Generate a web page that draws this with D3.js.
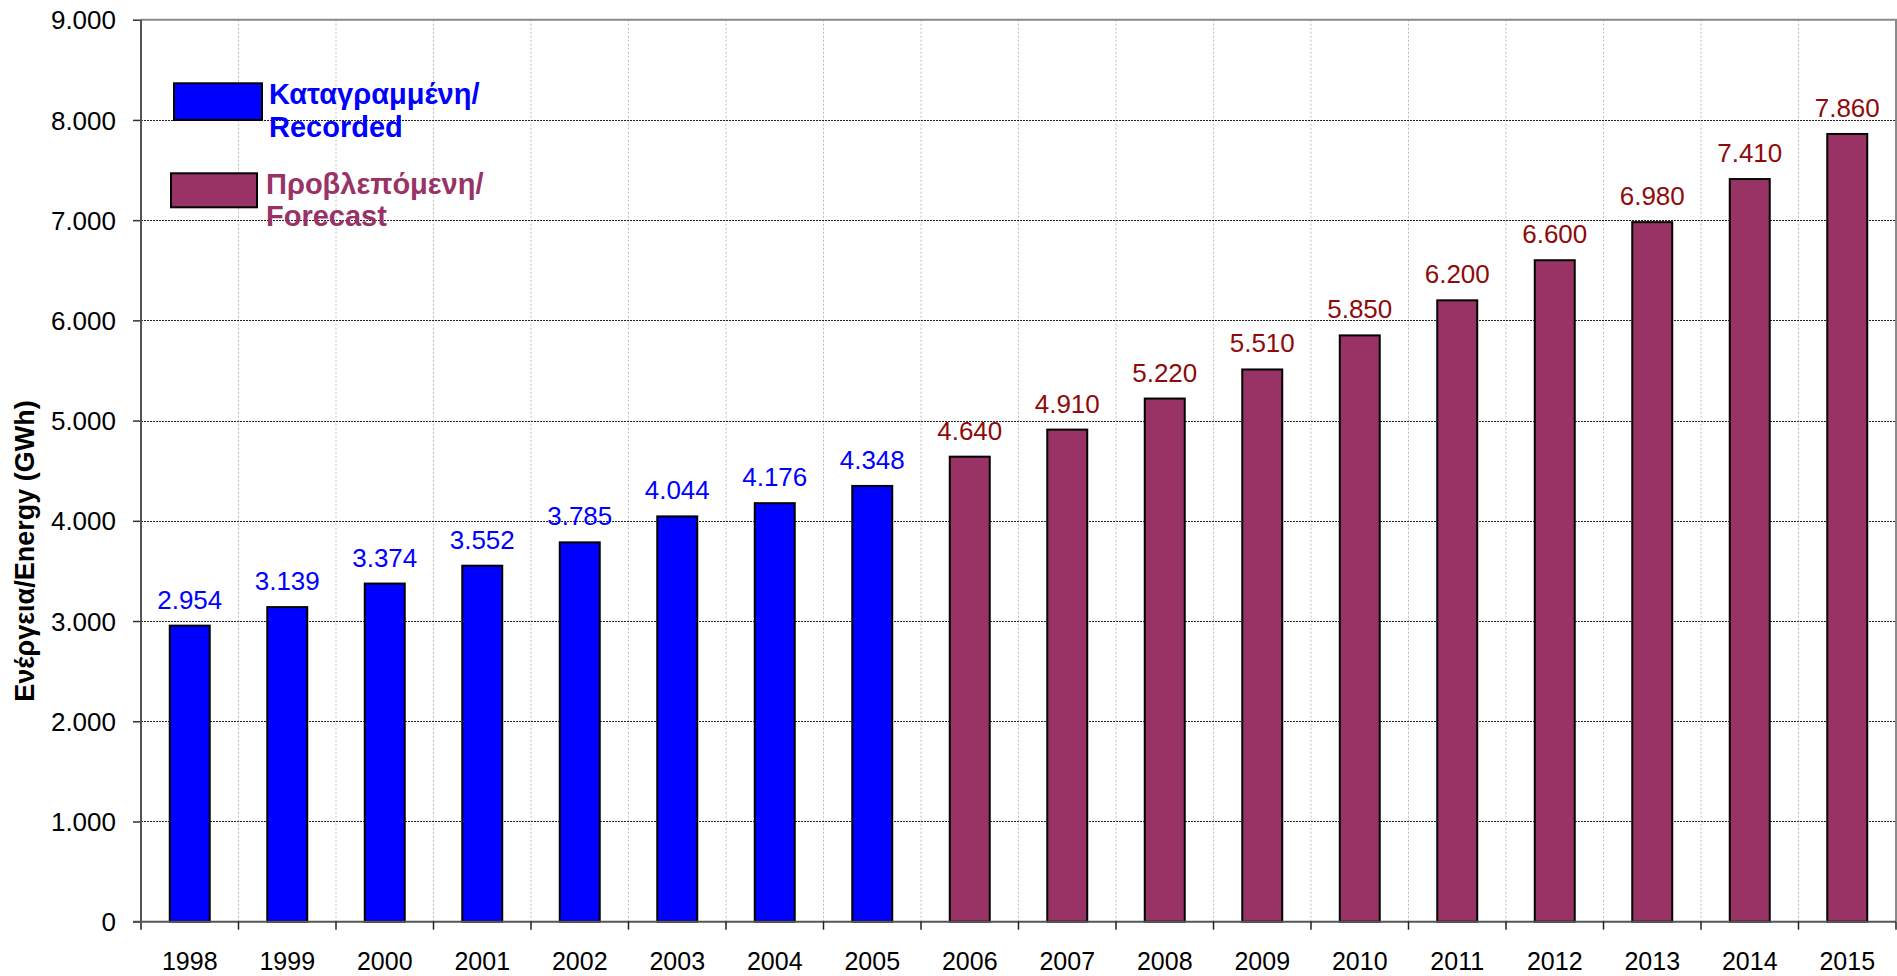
<!DOCTYPE html>
<html>
<head>
<meta charset="utf-8">
<script src="https://cdn.jsdelivr.net/npm/d3@7"></script>
<style>
  html, body { margin: 0; padding: 0; background: #fff; }
  svg { display: block; font-family: Arial, "Liberation Sans", sans-serif; }
</style>
</head>
<body>
<div id="chart"></div>
<script>
const years = ["1998", "1999", "2000", "2001", "2002", "2003", "2004", "2005", "2006",
  "2007", "2008", "2009", "2010", "2011", "2012", "2013", "2014", "2015"];
const recordedYears = ["1998", "1999", "2000", "2001", "2002", "2003", "2004", "2005"];
const recordedValues = [2954, 3139, 3374, 3552, 3785, 4044, 4176, 4348];
const forecastYears = ["2006", "2007", "2008", "2009", "2010", "2011", "2012", "2013", "2014", "2015"];
const forecastValues = [4640, 4910, 5220, 5510, 5850, 6200, 6600, 6980, 7410, 7860];
const yTicks = [0, 1000, 2000, 3000, 4000, 5000, 6000, 7000, 8000, 9000];
const legendLabels = [["Καταγραμμένη/", "Recorded"], ["Προβλεπόμενη/", "Forecast"]];

const width = 1897;
const height = 976;
const plot = { left: 141, right: 1896, top: 19.7, bottom: 921.7 };

const blue = "#0000ff";
const plum = "#993366";
const darkRed = "#8f0a0a";

// greek style numbers: 2.954
const fmt = d3.formatLocale({ decimal: ",", thousands: ".", grouping: [3], currency: ["", "€"] }).format(",");

const bars = recordedYears.map((y, i) => ({ year: y, value: recordedValues[i], kind: "rec" }))
  .concat(forecastYears.map((y, i) => ({ year: y, value: forecastValues[i], kind: "fc" })));

const svg = d3.select("#chart").append("svg")
  .attr("width", width)
  .attr("height", height);

const cat = d3.scaleBand().domain(years).range([plot.left, plot.right]).padding(0);
const x = d3.scaleBand().domain(years).range([plot.left, plot.right])
  .paddingInner(0.59).paddingOuter(0.295);
const y = d3.scaleLinear().domain([0, 9000]).range([plot.bottom, plot.top]);

// vertical gridlines at category boundaries
svg.append("g")
  .selectAll("line")
  .data(years.slice(1))
  .join("line")
  .attr("x1", d => cat(d))
  .attr("x2", d => cat(d))
  .attr("y1", plot.top)
  .attr("y2", plot.bottom)
  .attr("stroke", "#bdbdbd")
  .attr("stroke-width", 1)
  .attr("stroke-dasharray", "2,2");

// horizontal gridlines
svg.append("g")
  .selectAll("line")
  .data(yTicks.filter(d => d > 0 && d < 9000))
  .join("line")
  .attr("x1", plot.left)
  .attr("x2", plot.right)
  .attr("y1", d => Math.round(y(d)) + 0.5)
  .attr("y2", d => Math.round(y(d)) + 0.5)
  .attr("stroke", "#222")
  .attr("stroke-width", 1)
  .attr("stroke-dasharray", "2,1");

// top and right frame
svg.append("path")
  .attr("d", `M${plot.left},${plot.top}H${plot.right}V${plot.bottom}`)
  .attr("fill", "none")
  .attr("stroke", "#8a8a8a")
  .attr("stroke-width", 2);

// bars
svg.append("g")
  .selectAll("rect")
  .data(bars)
  .join("rect")
  .attr("x", d => x(d.year))
  .attr("y", d => y(d.value))
  .attr("width", x.bandwidth())
  .attr("height", d => y(0) - y(d.value))
  .attr("fill", d => d.kind === "rec" ? blue : plum)
  .attr("stroke", "#000")
  .attr("stroke-width", 2);

// value labels
svg.append("g")
  .selectAll("text")
  .data(bars)
  .join("text")
  .attr("x", d => x(d.year) + x.bandwidth() / 2)
  .attr("y", d => y(d.value) - 17)
  .attr("text-anchor", "middle")
  .attr("font-size", "26px")
  .attr("fill", d => d.kind === "rec" ? blue : darkRed)
  .text(d => fmt(d.value));

// y axis
const yAxis = svg.append("g")
  .attr("transform", `translate(${plot.left},0)`)
  .call(d3.axisLeft(y).tickValues(yTicks).tickSize(8).tickPadding(17).tickFormat(fmt));
yAxis.select(".domain").remove();
yAxis.selectAll(".tick line").attr("stroke", "#333").attr("stroke-width", 1.5);
yAxis.selectAll(".tick text")
  .attr("font-size", "26px")
  .attr("font-family", "Arial, 'Liberation Sans', sans-serif")
  .attr("fill", "#000")
  .attr("dy", "0.35em");

svg.append("line")
  .attr("x1", plot.left)
  .attr("x2", plot.left)
  .attr("y1", plot.top)
  .attr("y2", plot.bottom + 8)
  .attr("stroke", "#555")
  .attr("stroke-width", 2);

// x axis
svg.append("line")
  .attr("x1", plot.left - 8)
  .attr("x2", plot.right)
  .attr("y1", plot.bottom)
  .attr("y2", plot.bottom)
  .attr("stroke", "#555")
  .attr("stroke-width", 2);

svg.append("g")
  .selectAll("line")
  .data(years.slice(1).concat(["end"]))
  .join("line")
  .attr("x1", d => d === "end" ? plot.right : cat(d))
  .attr("x2", d => d === "end" ? plot.right : cat(d))
  .attr("y1", plot.bottom)
  .attr("y2", plot.bottom + 8)
  .attr("stroke", "#222")
  .attr("stroke-width", 1.5);

svg.append("g")
  .selectAll("text")
  .data(years)
  .join("text")
  .attr("x", d => x(d) + x.bandwidth() / 2)
  .attr("y", 970)
  .attr("text-anchor", "middle")
  .attr("font-size", "25px")
  .attr("fill", "#000")
  .text(d => d);

// y title
svg.append("text")
  .attr("transform", "translate(33.5,551) rotate(-90)")
  .attr("text-anchor", "middle")
  .attr("font-size", "27px")
  .attr("font-weight", "bold")
  .attr("fill", "#000")
  .text("Ενέργεια/Energy (GWh)");

// legend
const legend = [
  { box: [174, 83.3, 88, 36.7], fill: blue, tx: 269, ty: [104, 137], lines: legendLabels[0] },
  { box: [171, 173.3, 86, 34], fill: plum, tx: 266, ty: [194, 226], lines: legendLabels[1] }
];

const lg = svg.append("g");
legend.forEach(l => {
  lg.append("rect")
    .attr("x", l.box[0])
    .attr("y", l.box[1])
    .attr("width", l.box[2])
    .attr("height", l.box[3])
    .attr("fill", l.fill)
    .attr("stroke", "#000")
    .attr("stroke-width", 2);
  l.lines.forEach((t, i) => {
    lg.append("text")
      .attr("x", l.tx)
      .attr("y", l.ty[i])
      .attr("font-size", "29px")
      .attr("font-weight", "bold")
      .attr("fill", l.fill)
      .text(t);
  });
});
</script>
</body>
</html>
